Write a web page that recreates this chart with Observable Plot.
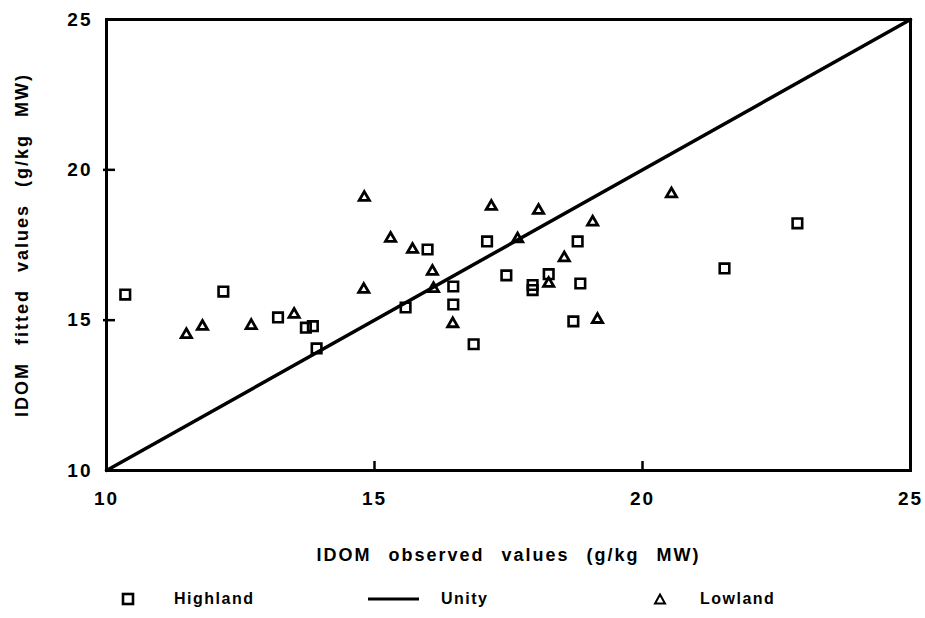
<!DOCTYPE html>
<html>
<head>
<meta charset="utf-8">
<script src="https://cdn.jsdelivr.net/npm/d3@7"></script>
<script src="https://cdn.jsdelivr.net/npm/@observablehq/plot@0.6"></script>
<style>
  body { margin: 0; background: #fff; font-family: "Liberation Sans", Arial, sans-serif; }
  #chart { width: 925px; }
  #legend { position: relative; width: 925px; height: 38px; font-weight: bold; font-size: 16px; letter-spacing: 1.5px; color: #000; }
  #legend .item { position: absolute; top: 0; height: 38px; display: flex; align-items: center; }
  #legend svg { display: block; }
</style>
</head>
<body>
<div id="chart"></div>
<div id="legend"></div>
<script>
// Highland (squares)
const highlandObs = [10.35, 12.18, 13.2, 13.72, 13.85, 13.92, 15.58, 15.99, 16.47, 16.47, 16.85, 17.1, 17.46, 17.95, 17.95, 18.25, 18.79, 18.84, 18.71, 21.53, 22.89];
const highlandFit = [15.85, 15.95, 15.09, 14.75, 14.8, 14.06, 15.42, 17.35, 16.12, 15.52, 14.2, 17.62, 16.49, 16.17, 16.0, 16.53, 17.62, 16.22, 14.96, 16.72, 18.22];
// Lowland (triangles)
const lowlandObs = [11.49, 11.79, 12.7, 13.5, 14.81, 15.3, 14.8, 15.71, 16.08, 16.1, 16.46, 17.18, 17.67, 18.06, 18.25, 18.54, 19.07, 19.16, 20.54];
const lowlandFit = [14.52, 14.79, 14.82, 15.19, 19.08, 17.72, 16.02, 17.35, 16.62, 16.05, 14.88, 18.78, 17.7, 18.65, 16.22, 17.07, 18.26, 15.02, 19.2];
// Unity line endpoints
const unity = [10, 25];
const tickValues = [10, 15, 20, 25];
const innerTicks = [15, 20];
const xTitle = "IDOM observed values (g/kg MW)";
const yTitle = "IDOM fitted values (g/kg MW)";
const legendLabels = ["Highland", "Unity", "Lowland"];

const highland = highlandObs.map((x, i) => ({obs: x, fit: highlandFit[i]}));
const lowland = lowlandObs.map((x, i) => ({obs: x, fit: lowlandFit[i]}));

const W = 925, H = 580, mL = 106, mR = 15, mT = 19, mB = 110;
const frameW = W - mL - mR, frameH = H - mT - mB, tickLen = 9;

const chart = Plot.plot({
  width: W,
  height: H,
  marginLeft: mL,
  marginRight: mR,
  marginTop: mT,
  marginBottom: mB,
  style: {fontFamily: "'Liberation Sans', Arial, sans-serif", color: "#000", background: "#fff"},
  x: {domain: [10, 25], label: null},
  y: {domain: [10, 25], label: null},
  marks: [
    Plot.axisX({ticks: tickValues, tickSize: 0, tickPadding: 21, fontSize: 19, fontWeight: "bold", label: null}),
    Plot.axisY({ticks: tickValues, tickSize: 0, tickPadding: 14, fontSize: 19, fontWeight: "bold", label: null}),
    Plot.tickX(innerTicks, {x: d => d, insetTop: frameH - tickLen, stroke: "#000", strokeWidth: 2.5}),
    Plot.tickY(innerTicks, {y: d => d, insetRight: frameW - tickLen, insetLeft: -3, stroke: "#000", strokeWidth: 2.5}),
    Plot.frame({stroke: "#000", strokeWidth: 3}),
    Plot.line(unity, {x: d => d, y: d => d, stroke: "#000", strokeWidth: 3.5}),
    Plot.dot(highland, {x: "obs", y: "fit", symbol: "square", r: 5.4, stroke: "#000", strokeWidth: 2.6, fill: "none"}),
    Plot.dot(lowland, {x: "obs", y: "fit", symbol: "triangle", r: 3.8, stroke: "#000", strokeWidth: 2.8, fill: "none"}),
    Plot.text([xTitle], {frameAnchor: "bottom", dy: 90, fontSize: 18, fontWeight: "bold"}),
    Plot.text([yTitle], {frameAnchor: "left", textAnchor: "middle", dx: -84, rotate: -90, fontSize: 18, fontWeight: "bold"})
  ]
});
chart.querySelectorAll("text").forEach(t => { t.style.letterSpacing = "2px"; t.style.wordSpacing = "10px"; });
document.getElementById("chart").appendChild(chart);

// Legend (HTML, below the SVG)
const legend = document.getElementById("legend");
const items = [
  {left: 121, sym: `<svg width="14" height="14"><rect x="2" y="2" width="10" height="10" fill="none" stroke="#000" stroke-width="2.6"/></svg>`, gap: 39, label: legendLabels[0]},
  {left: 368, sym: `<svg width="52" height="6"><line x1="0" y1="3" x2="51" y2="3" stroke="#000" stroke-width="3"/></svg>`, gap: 21, label: legendLabels[1]},
  {left: 653, sym: `<svg width="14" height="14"><path d="M7,2.5 L12,11.5 L2,11.5 Z" fill="none" stroke="#000" stroke-width="2"/></svg>`, gap: 33, label: legendLabels[2]}
];
for (const it of items) {
  const div = document.createElement("div");
  div.className = "item";
  div.style.left = it.left + "px";
  div.innerHTML = it.sym + `<span style="margin-left:${it.gap}px">${it.label}</span>`;
  legend.appendChild(div);
}
</script>
</body>
</html>
